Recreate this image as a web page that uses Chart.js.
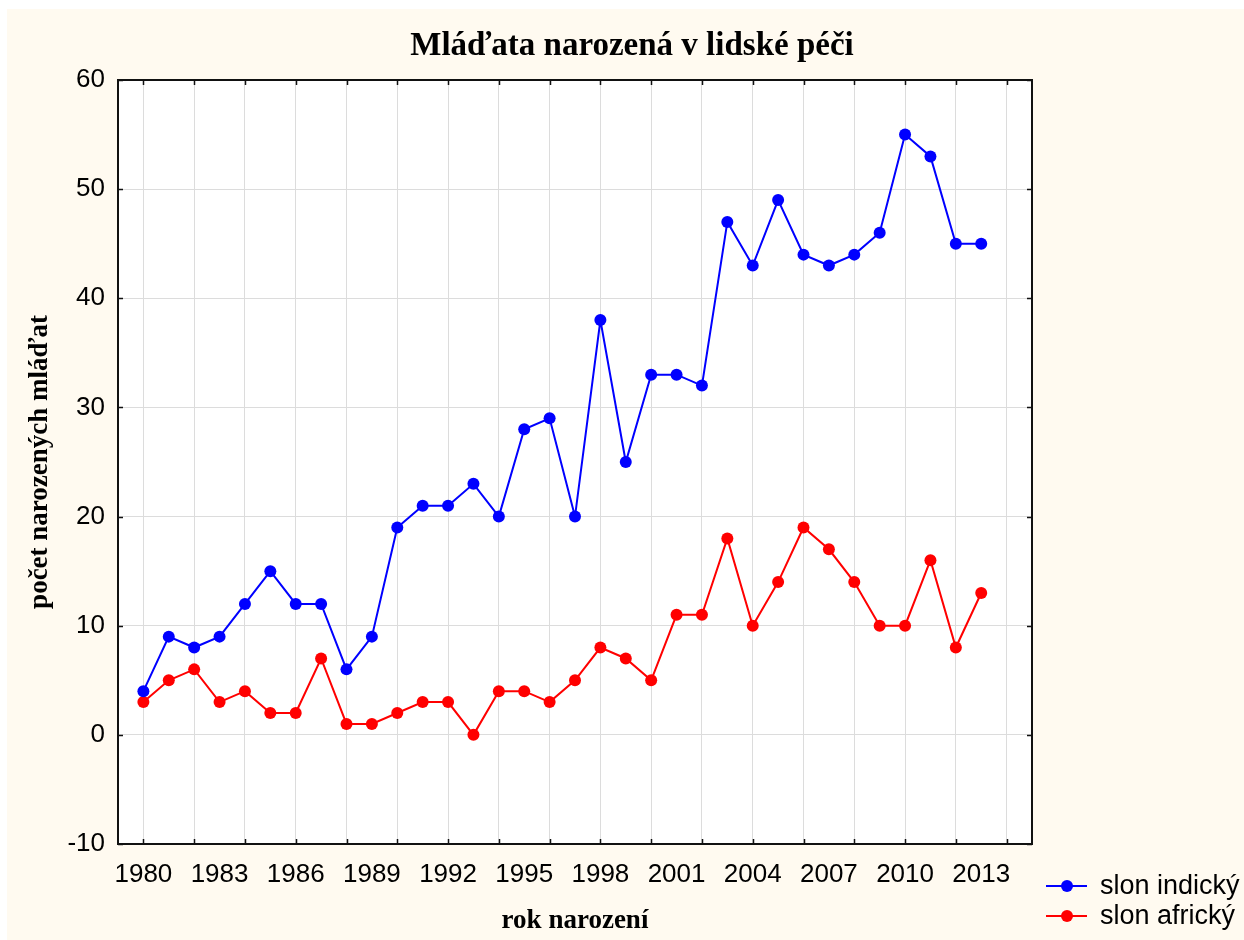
<!DOCTYPE html>
<html>
<head>
<meta charset="utf-8">
<script src="https://cdn.jsdelivr.net/npm/chart.js@4"></script>
<style>
  body { margin: 0; background: #fff; }
  #box { position: absolute; left: 7px; top: 9px; width: 1237px; height: 931px; background: #fffaf0; }
</style>
</head>
<body>
<div id="box"><canvas id="chart" width="1237" height="931"></canvas></div>
<script>
const years = [1980, 1981, 1982, 1983, 1984, 1985, 1986, 1987, 1988, 1989, 1990, 1991, 1992, 1993, 1994, 1995, 1996,
  1997, 1998, 1999, 2000, 2001, 2002, 2003, 2004, 2005, 2006, 2007, 2008, 2009, 2010, 2011, 2012, 2013]
const slonIndicky = [4, 9, 8, 9, 12, 15, 12, 12, 6, 9, 19, 21, 21, 23, 20, 28, 29,
  20, 38, 25, 33, 33, 32, 47, 43, 49, 44, 43, 44, 46, 55, 53, 45, 45]
const slonAfricky = [3, 5, 6, 3, 4, 2, 2, 7, 1, 1, 2, 3, 3, 0, 4, 4, 3,
  5, 8, 7, 5, 11, 11, 18, 10, 14, 19, 17, 14, 10, 10, 16, 8, 13]
const seriesNames = ['slon indický', 'slon africký']
const title = 'Mláďata narozená v lidské péči'
const xTitle = 'rok narození'
const yTitle = 'počet narozených mláďat'

const sans = '"Liberation Sans", Arial, sans-serif'
const serif = '"Liberation Serif", "Times New Roman", serif'

// frame, inner ticks, titles and legend
const decor = {
  id: 'decor',
  beforeDraw (chart) {
    const { ctx, chartArea: a } = chart
    ctx.save()
    ctx.fillStyle = '#fff'
    ctx.fillRect(a.left, a.top, a.right - a.left, a.bottom - a.top)
    ctx.restore()
  },
  afterDraw (chart) {
    const { ctx, chartArea: a } = chart
    const xs = chart.scales.x
    const ys = chart.scales.y
    ctx.save()
    ctx.strokeStyle = '#111'
    ctx.lineWidth = 1.5
    ctx.beginPath()
    for (let v = 1980; v <= 2014; v += 2) {
      const px = Math.round(xs.getPixelForValue(v)) + 0.5
      ctx.moveTo(px, a.bottom); ctx.lineTo(px, a.bottom - 5)
      ctx.moveTo(px, a.top); ctx.lineTo(px, a.top + 5)
    }
    for (let v = -10; v <= 60; v += 10) {
      const py = Math.round(ys.getPixelForValue(v)) + 0.5
      ctx.moveTo(a.left, py); ctx.lineTo(a.left + 5, py)
      ctx.moveTo(a.right, py); ctx.lineTo(a.right - 5, py)
    }
    ctx.stroke()
    ctx.lineWidth = 2
    ctx.strokeRect(a.left, a.top, a.right - a.left, a.bottom - a.top)

    ctx.fillStyle = '#000'
    ctx.textAlign = 'center'
    ctx.textBaseline = 'alphabetic'
    ctx.font = 'bold 33px ' + serif
    ctx.fillText(title, 625, 46)
    ctx.font = 'bold 27px ' + serif
    ctx.fillText(xTitle, (a.left + a.right) / 2, 919)
    ctx.save()
    ctx.translate(40, (a.top + a.bottom) / 2)
    ctx.rotate(-Math.PI / 2)
    ctx.fillText(yTitle, 0, 0)
    ctx.restore()

    // legend
    ctx.textAlign = 'left'
    ctx.textBaseline = 'middle'
    ctx.font = '27px ' + sans
    chart.data.datasets.forEach((ds, i) => {
      const y = 877 + i * 30
      ctx.strokeStyle = ds.borderColor
      ctx.lineWidth = 2
      ctx.beginPath(); ctx.moveTo(1039, y); ctx.lineTo(1080, y); ctx.stroke()
      ctx.fillStyle = ds.backgroundColor
      ctx.beginPath(); ctx.arc(1060, y, 6, 0, Math.PI * 2); ctx.fill()
      ctx.fillStyle = '#000'
      ctx.fillText(ds.label, 1093, y + 1)
    })
    ctx.restore()
  }
}

const chart = new Chart(document.getElementById('chart'), {
  type: 'line',
  data: {
    datasets: [{
      label: seriesNames[0],
      data: years.map((y, i) => ({ x: y, y: slonIndicky[i] })),
      borderColor: '#0000ff',
      backgroundColor: '#0000ff',
      borderWidth: 2,
      pointRadius: 6,
      pointBorderWidth: 0,
      tension: 0
    }, {
      label: seriesNames[1],
      data: years.map((y, i) => ({ x: y, y: slonAfricky[i] })),
      borderColor: '#ff0000',
      backgroundColor: '#ff0000',
      borderWidth: 2,
      pointRadius: 6,
      pointBorderWidth: 0,
      tension: 0
    }]
  },
  options: {
    responsive: false,
    animation: false,
    layout: { padding: { left: 0, top: 71, right: 212, bottom: 0 } },
    plugins: { legend: { display: false }, tooltip: { enabled: false } },
    scales: {
      x: {
        type: 'linear',
        min: 1979,
        max: 2015,
        afterFit: (s) => { s.height = 96 },
        border: { display: false },
        grid: {
          drawTicks: false,
          color: (c) => (c.tick && c.tick.value % 2 === 0 && c.tick.value >= 1980 && c.tick.value <= 2014) ? '#dcdcdc' : 'rgba(0,0,0,0)',
          lineWidth: 1
        },
        ticks: {
          stepSize: 1,
          autoSkip: false,
          maxRotation: 0,
          padding: 15,
          color: '#000',
          font: { family: sans, size: 26 },
          callback: (v) => (v >= 1980 && v <= 2013 && (v - 1980) % 3 === 0) ? String(v) : ''
        }
      },
      y: {
        min: -10,
        max: 60,
        afterFit: (s) => { s.width = 111 },
        border: { display: false },
        grid: { drawTicks: false, color: '#dcdcdc', lineWidth: 1 },
        ticks: {
          stepSize: 10,
          padding: 13,
          color: '#000',
          font: { family: sans, size: 26 }
        }
      }
    }
  },
  plugins: [decor]
})
</script>
</body>
</html>
